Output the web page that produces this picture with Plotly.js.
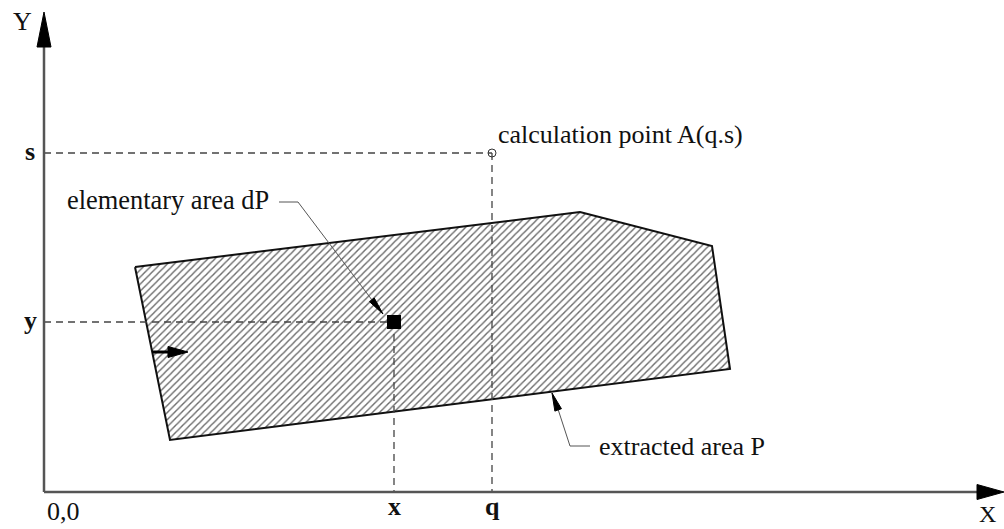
<!DOCTYPE html>
<html>
<head>
<meta charset="utf-8">
<script src="https://cdn.plot.ly/plotly-3.0.1.min.js"></script>
<style>html,body{margin:0;padding:0;background:#fff;}#chart{width:1004px;height:529px;}</style>
</head>
<body>
<div id="chart"></div>
<script>
// ---- data (diagram units, origin at 0,0) ----
const areaX = [91, 536, 668, 686, 126];
const areaY = [225, 280, 246, 123, 52];
const calcPointX = [448];   // q
const calcPointY = [339];   // s
const elemX = [350];        // x
const elemY = [170];        // y
const axisMaxX = 960;
const axisMaxY = 480;
const tickLabels = ["s", "y", "x", "q"];
const textLabels = ["elementary area dP", "calculation point A(q.s)", "extracted area P"];
const leaderDPX = [235, 254, 328];
const leaderDPY = [290, 290, 192];
const leaderPX = [546, 526, 512];
const leaderPY = [46, 46, 89];
const flowArrowX = [108, 144];
const flowArrowY = [140, 140];

const FONT = "Liberation Serif, Times New Roman, serif";

function head(tx, ty, dx, dy, len, wid) {
  const n = Math.hypot(dx, dy); dx /= n; dy /= n;
  const bx = tx - dx * len, by = ty - dy * len;
  const px = -dy * wid / 2, py = dx * wid / 2;
  return {x: [tx, bx + px, bx - px, tx], y: [ty, by + py, by - py, ty]};
}
function line(x, y, color, width, dash) {
  return {type: 'scatter', mode: 'lines', x: x, y: y, hoverinfo: 'skip', showlegend: false,
    line: {color: color, width: width, dash: dash || 'solid'}};
}
function tri(h, color) {
  return {type: 'scatter', mode: 'lines', x: h.x, y: h.y, fill: 'toself', fillcolor: color,
    line: {color: color, width: 1}, hoverinfo: 'skip', showlegend: false};
}

const q = calcPointX[0], s = calcPointY[0], ex = elemX[0], ey = elemY[0];
const dashStyle = '7px,5px';

const traces = [
  // hatched extracted area
  {type: 'scatter', mode: 'lines', x: areaX.concat([areaX[0]]), y: areaY.concat([areaY[0]]),
   fill: 'toself', fillcolor: 'white',
   fillpattern: {shape: '/', size: 5, solidity: 0.28, fgcolor: '#6a6a6a', bgcolor: 'white'},
   line: {color: '#111', width: 2}, hoverinfo: 'skip', showlegend: false},
  // dashed projection lines
  line([0, q], [s, s], '#444', 1.3, dashStyle),
  line([q, q], [s, 0], '#444', 1.3, dashStyle),
  line([0, ex], [ey, ey], '#444', 1.3, dashStyle),
  line([ex, ex], [ey, 0], '#444', 1.3, dashStyle),
  // axes
  line([0, axisMaxX - 20], [0, 0], '#555', 2.5),
  line([0, 0], [0, axisMaxY - 20], '#555', 2.5),
  tri(head(axisMaxX, 0, 1, 0, 27, 15), '#000'),
  tri(head(0, axisMaxY, 0, 1, 35, 14), '#000'),
  // leader lines
  line(leaderDPX, leaderDPY, '#555', 1),
  tri(head(339, 178, 11, -14, 18, 6), '#000'),
  line(leaderPX, leaderPY, '#555', 1),
  tri(head(508, 99, -4, 11, 18, 7), '#000'),
  // flow arrow
  line([flowArrowX[0], flowArrowX[1] - 16], flowArrowY, '#000', 3),
  tri(head(flowArrowX[1], flowArrowY[1], 1, 0, 20, 11), '#000'),
  // elementary area
  {type: 'scatter', mode: 'markers', x: elemX, y: elemY, hoverinfo: 'skip', showlegend: false,
   marker: {symbol: 'square', size: 14, color: '#000', line: {width: 0}}},
  // calculation point
  {type: 'scatter', mode: 'markers', x: calcPointX, y: calcPointY, hoverinfo: 'skip', showlegend: false,
   marker: {symbol: 'circle-open', size: 8, color: '#333', line: {width: 1}}}
];

function txt(t, x, y, opts) {
  return Object.assign({text: t, x: x, y: y, xref: 'x', yref: 'y', showarrow: false,
    font: {family: FONT, size: 26, color: '#111'}, xanchor: 'center', yanchor: 'middle'}, opts || {});
}
const bold = {family: FONT, size: 26, color: '#111', weight: 'bold'};

const annotations = [
  txt('Y', -22, 471),
  txt('X', 943, -22, {font: {family: FONT, size: 24, color: '#111'}}),
  txt('0,0', 19, -19),
  txt('<b>' + tickLabels[0] + '</b>', -14, s + 2, {font: bold}),
  txt('<b>' + tickLabels[1] + '</b>', -14, ey + 2, {font: bold}),
  txt('<b>' + tickLabels[2] + '</b>', ex, -14, {font: bold}),
  txt('<b>' + tickLabels[3] + '</b>', q, -14, {font: bold}),
  txt(textLabels[0], 21, 292, {xanchor: 'left', font: {family: FONT, size: 26.4, color: '#111'}}),
  txt(textLabels[1], 452, 358, {xanchor: 'left'}),
  txt(textLabels[2], 553, 46, {xanchor: 'left'})
];

const layout = {
  width: 1004, height: 529,
  margin: {l: 0, r: 0, t: 0, b: 0, pad: 0},
  paper_bgcolor: 'white', plot_bgcolor: 'white',
  xaxis: {range: [-44, 960], visible: false, fixedrange: true},
  yaxis: {range: [-37, 492], visible: false, fixedrange: true},
  showlegend: false,
  annotations: annotations
};

Plotly.newPlot('chart', traces, layout, {staticPlot: true, displayModeBar: false});
</script>
</body>
</html>
